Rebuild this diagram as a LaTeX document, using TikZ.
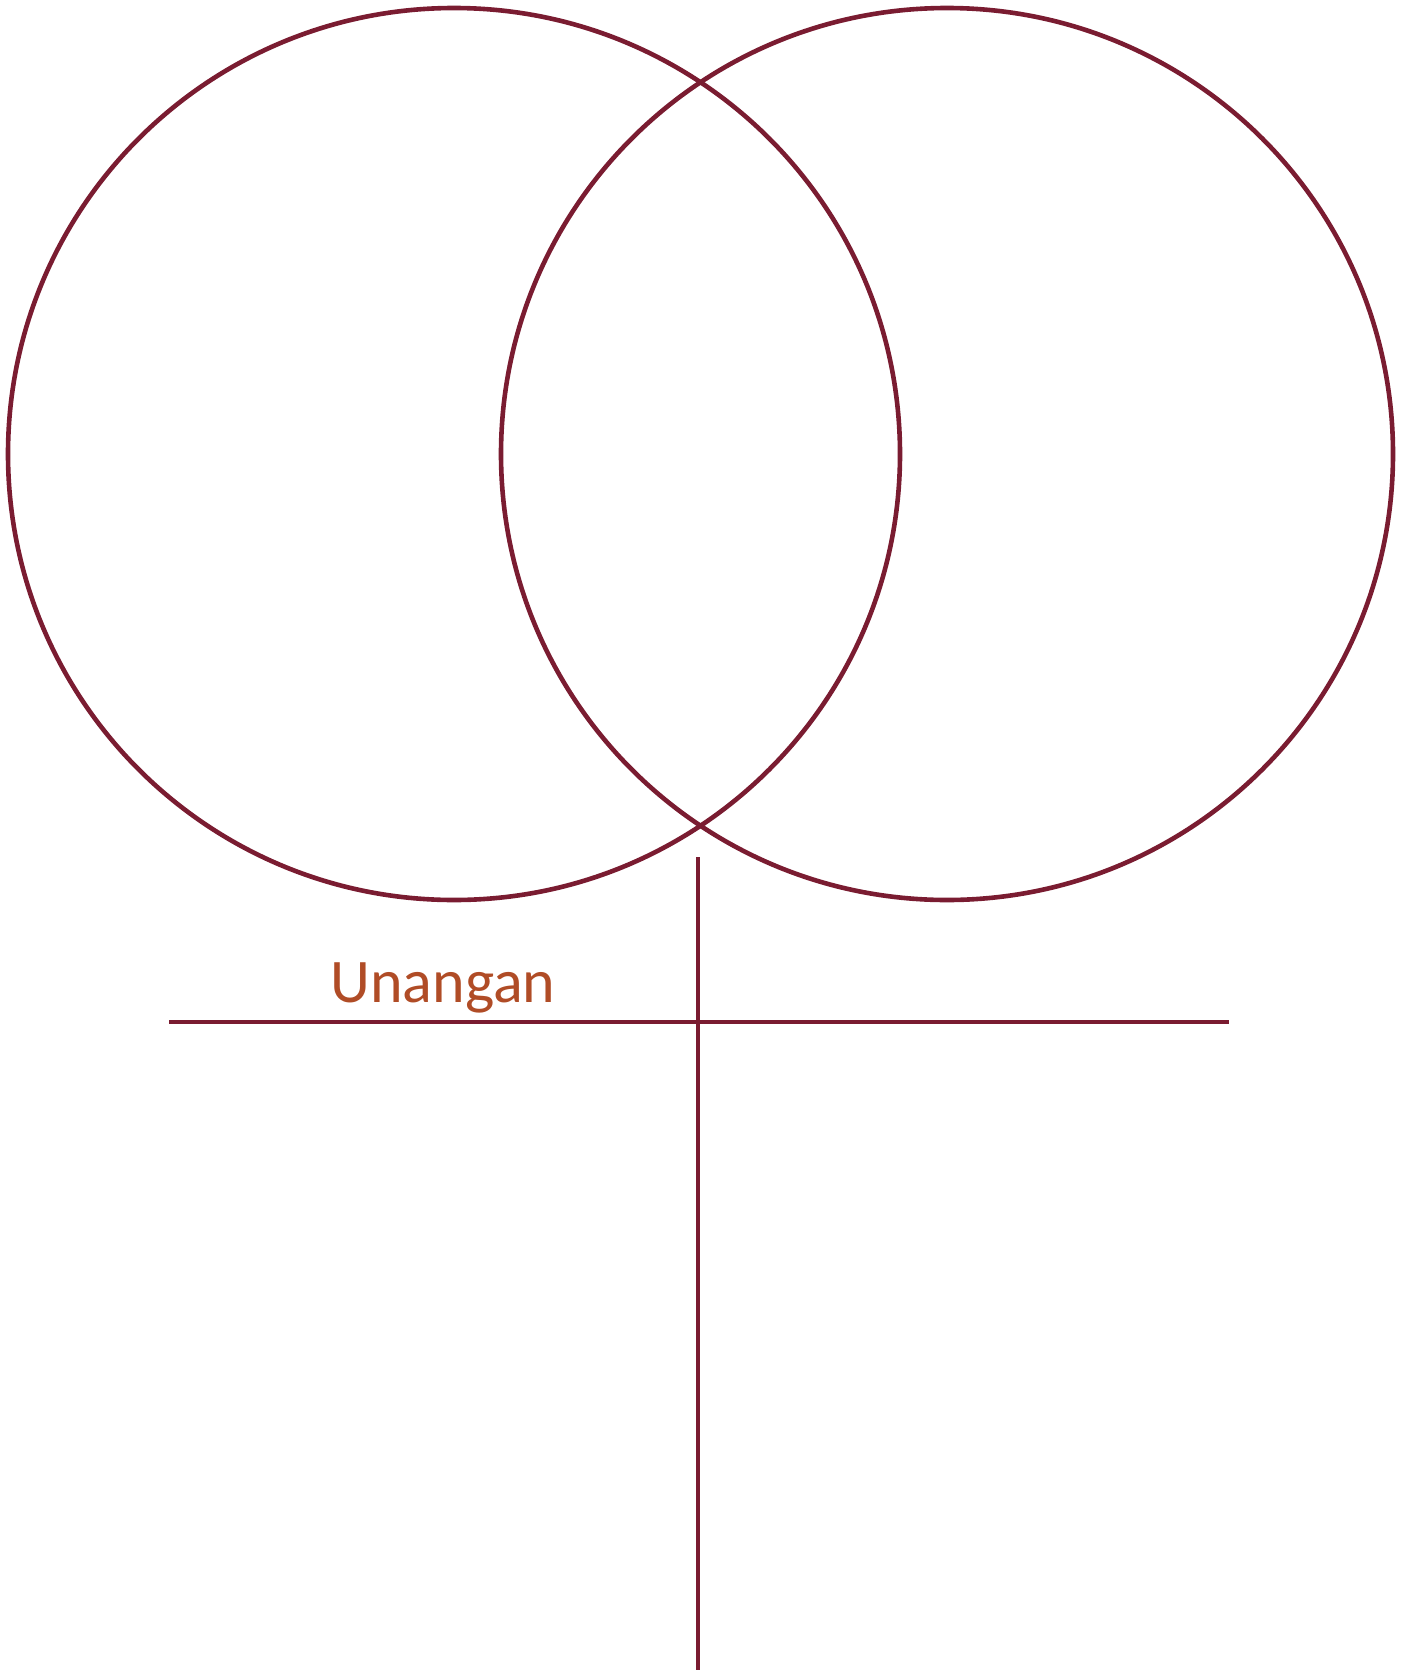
\documentclass[tikz,border=0pt]{standalone}
\usepackage{fontspec}
\setmainfont{Carlito}
\usepackage{tikz}
\usetikzlibrary{calc}
\usepackage{xcolor}
\definecolor{ringred}{RGB}{122, 28, 49}
\definecolor{labelrust}{RGB}{176, 76, 38}

\begin{document}
\begin{tikzpicture}[x=1pt, y=-1pt]

  % Page frame
  \useasboundingbox (0, 0) rectangle (1401, 1670);

  % The two rings
  \draw[ringred, line width=4.6pt] (454, 454) circle (446);
  \draw[ringred, line width=4.6pt] (947, 454) circle (446);

  % Stem and crossbar end points
  \coordinate (stemtop) at (698, 857);
  \coordinate (stembot) at (698, 1672);
  \coordinate (barleft) at (169, 1022);
  \coordinate (barright) at (1229, 1022);

  % Cross below the rings
  \draw[ringred, line width=4.6pt] (stemtop) -- (stembot);
  \draw[ringred, line width=4.6pt] (barleft) -- (barright);

  % Label
  \node[labelrust, font=\fontsize{62}{68}\selectfont, anchor=base, inner sep=0pt] (label) at (443, 1002) {Unangan};

\end{tikzpicture}
\end{document}
